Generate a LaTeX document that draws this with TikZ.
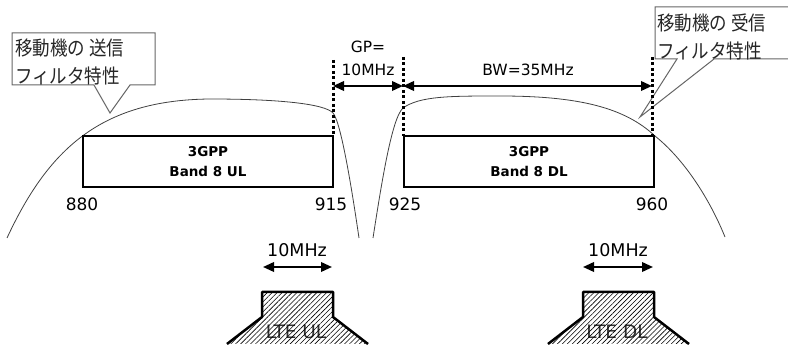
\documentclass[tikz,border=0pt]{standalone}
\usepackage{fontspec}
\setmainfont{DejaVu Sans}
\newfontfamily\jp{Noto Sans CJK JP}
\usetikzlibrary{arrows.meta,patterns.meta}
\begin{document}
\begin{tikzpicture}[x=1pt,y=-1pt,
  band/.style={draw,fill=white,line width=2pt,minimum width=250pt,minimum height=51pt,inner sep=0pt,align=center,font=\fontsize{13.5}{20}\selectfont\bfseries},
  freq/.style={font=\fontsize{17}{17}\selectfont,inner sep=0pt},
  gplab/.style={font=\fontsize{15.5}{16}\selectfont,inner sep=0pt},
  dots/.style={line width=3pt,dash pattern=on 3pt off 2.5pt},
  dim/.style={line width=2pt,{Triangle[length=11pt,width=9.5pt]}-{Triangle[length=11pt,width=9.5pt]}},
  filt/.style={line width=0.8pt,black!75},
  callout/.style={draw=black!60,line width=1pt,fill=white,line join=miter},
  jptext/.style={font=\jp\fontsize{17.5}{24}\selectfont,align=left,inner sep=0pt,anchor=west,black!85,yscale=1.13,transform shape},
  lteline/.style={line width=2.5pt,line join=round},
  hatch/.style={pattern={Lines[angle=45,distance=3.5pt,line width=0.6pt]}},
  ltetext/.style={font=\fontsize{18.5}{19}\selectfont,inner sep=0pt,black!80}
]
\useasboundingbox (0,0) rectangle (788,347);

% filter curves
\draw[filt] (7,238) .. controls (48,150) and (100,100) .. (210,99)
  .. controls (280,99) and (325,104) .. (333,113)
  .. controls (341,122) and (352,190) .. (359,238);
\draw[filt] (373,238) .. controls (382,180) and (392,118) .. (403,108)
  .. controls (420,96) and (450,96) .. (500,96)
  .. controls (580,96) and (625,108) .. (655,136)
  .. controls (685,160) and (710,200) .. (725,237);

% callouts
\draw[callout] (12,33) -- (155,33) -- (155,85) -- (130,85) -- (110,113) -- (94,85) -- (12,85) -- cycle;
\node[jptext] (txL) at (15,62) {移動機の 送信\\フィルタ特性};
\draw[callout] (655,7) -- (800,7) -- (800,59) -- (714,59) -- (640,117) -- (677,59) -- (655,59) -- cycle;
\node[jptext] (txR) at (657,37) {移動機の 受信\\フィルタ特性};

% dotted guides
\coordinate (d1t) at (333,60);  \coordinate (d1b) at (333,136);
\coordinate (d2t) at (403,57);  \coordinate (d2b) at (403,136);
\coordinate (d3t) at (652,57);  \coordinate (d3b) at (652,136);
\draw[dots] (d1t) -- (d1b);
\draw[dots] (d2t) -- (d2b);
\draw[dots] (d3t) -- (d3b);

% GP and BW
\coordinate (gpL) at (333,86); \coordinate (gpR) at (403,86); \coordinate (bwR) at (652,86);
\draw[dim] (gpL) -- (gpR);
\draw[dim] (gpR) -- (bwR);
\node[gplab] (gp1) at (368,47) {GP=};
\node[gplab] (gp2) at (368,70) {10MHz};
\node[gplab] (bw) at (528,70) {BW=35MHz};

% bands
\node[band] (ul) at (208,161.5) {3GPP\\Band 8 UL};
\node[band] (dl) at (529,161.5) {3GPP\\Band 8 DL};
\node[freq] (f880) at (82,204) {880};
\node[freq] (f915) at (331,204) {915};
\node[freq] (f925) at (405,204) {925};
\node[freq] (f960) at (652,204) {960};

% LTE UL
\node[freq,font=\fontsize{17.5}{18}\selectfont] (bwul) at (297,250) {10MHz};
\coordinate (aulL) at (263,267); \coordinate (aulR) at (332,267);
\draw[dim] (aulL) -- (aulR);
\node[ltetext] (lteul) at (296,332) {LTE UL};
\fill[hatch] (227,344) -- (262,317) -- (262,292) -- (333,292) -- (333,317) -- (368,344) -- cycle;
\draw[lteline] (227,344) -- (262,317) -- (262,292) -- (333,292) -- (333,317) -- (368,344);

% LTE DL
\node[freq,font=\fontsize{17.5}{18}\selectfont] (bwdl) at (618,250) {10MHz};
\coordinate (adlL) at (583,267); \coordinate (adlR) at (653,267);
\draw[dim] (adlL) -- (adlR);
\node[ltetext] (ltedl) at (617,332) {LTE DL};
\fill[hatch] (548,344) -- (583,317) -- (583,292) -- (654,292) -- (654,317) -- (689,344) -- cycle;
\draw[lteline] (548,344) -- (583,317) -- (583,292) -- (654,292) -- (654,317) -- (689,344);
\end{tikzpicture}
\end{document}
